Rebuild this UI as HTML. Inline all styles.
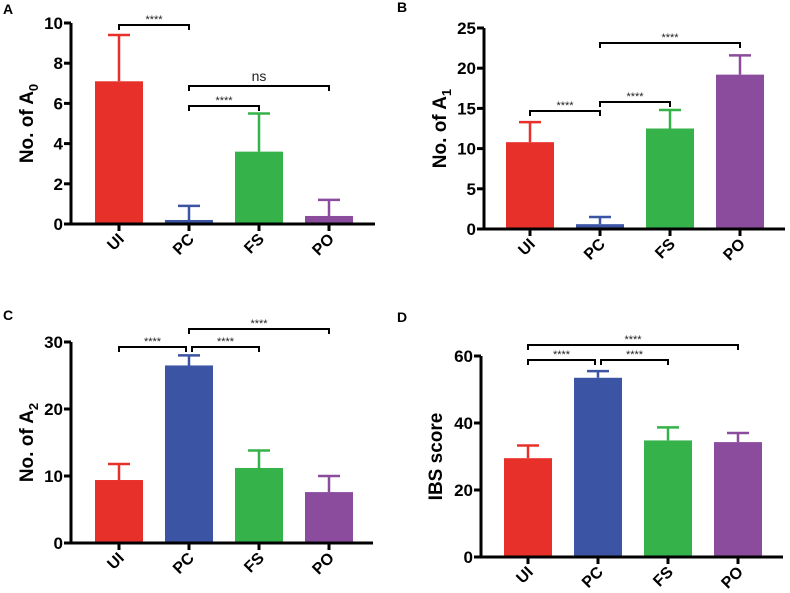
<!DOCTYPE html>
<html><head><meta charset="utf-8"><style>
body{margin:0;background:#fff;}
svg{display:block;font-family:"Liberation Sans",Arial,sans-serif;}
</style></head><body>
<svg id="fig" width="790" height="593" viewBox="0 0 790 593"></svg>
<script>
const categories=["UI","PC","FS","PO"];
const colors=["#e8302a","#3b55a4","#35b24a","#8b4c9e"];
const meansA=[7.1,0.2,3.6,0.4];
const errA=[9.4,0.9,5.5,1.2];
const ticksA=[0,2,4,6,8,10];
const meansB=[10.8,0.6,12.5,19.2];
const errB=[13.3,1.5,14.8,21.6];
const ticksB=[0,5,10,15,20,25];
const meansC=[9.4,26.5,11.2,7.6];
const errC=[11.8,28,13.8,10];
const ticksC=[0,10,20,30];
const meansD=[29.5,53.5,34.8,34.3];
const errD=[33.3,55.5,38.7,37];
const ticksD=[0,20,40,60];
const NS="http://www.w3.org/2000/svg";
const svg=document.getElementById('fig');
function mk(tag,attrs,parent,text){const e=document.createElementNS(NS,tag);for(const k in attrs)e.setAttribute(k,attrs[k]);if(text!==undefined)e.textContent=text;(parent||svg).appendChild(e);return e;}
const panels=[
 {id:'a',letter:'A',lx:3,ly:14,ax:71,top:23,bot:224,end:375,c0:119,means:meansA,errs:errA,ticks:ticksA,lab:'No. of A',sub:'0',ylx:33,brackets:[[0,1,25,'****'],[1,3,86,'ns'],[1,2,106,'****']]},
 {id:'b',letter:'B',lx:397,ly:12,ax:484,top:28,bot:229,end:785,c0:530,means:meansB,errs:errB,ticks:ticksB,lab:'No. of A',sub:'1',ylx:446,brackets:[[0,1,111,'****'],[1,2,102,'****'],[1,3,43,'****']]},
 {id:'c',letter:'C',lx:3,ly:320,ax:71,top:342,bot:543,end:373,c0:119,means:meansC,errs:errC,ticks:ticksC,lab:'No. of A',sub:'2',ylx:33,brackets:[[0,1,347,'****'],[1,2,347,'****'],[1,3,329,'****']]},
 {id:'d',letter:'D',lx:397,ly:322,ax:481,top:356,bot:557,end:783,c0:528,means:meansD,errs:errD,ticks:ticksD,lab:'IBS score',sub:'',ylx:442,brackets:[[0,1,360,'****'],[1,2,360,'****'],[0,3,345,'****']]}
];
panels.forEach(p=>{
 const g=mk('g',{});
 
 
 const max=p.ticks[p.ticks.length-1];
 const y=v=>p.bot-(v/max)*(p.bot-p.top);
 const xc=i=>p.c0+i*70;
 const L=mk('text',{x:p.lx,y:p.ly,'font-size':14,'font-weight':'bold'},g,p.letter);
 
 
 p.means.forEach((m,i)=>{
  const c=colors[i];
  const bar=mk('rect',{x:xc(i)-24,y:y(m),width:48,height:p.bot-y(m),fill:c},g);
  
  
  const e=mk('path',{d:`M${xc(i)} ${y(m)}V${y(p.errs[i])}M${xc(i)-11} ${y(p.errs[i])}H${xc(i)+11}`,stroke:c,'stroke-width':2.5,fill:'none'},g);
  
  
 });
 const ya=mk('path',{d:`M${p.ax} ${p.top}V${p.bot}`,stroke:'#000','stroke-width':3},g);
 
 
 const xa=mk('path',{d:`M${p.ax-1.5} ${p.bot}H${p.end}`,stroke:'#000','stroke-width':3},g);
 
 
 p.ticks.forEach(t=>{
  mk('path',{d:`M${p.ax-7} ${y(t)}H${p.ax}`,stroke:'#000','stroke-width':3},g);
  const tl=mk('text',{x:p.ax-8,y:y(t)+6,'font-size':17,'font-weight':'bold','text-anchor':'end'},g,t);
  
  
 });
 categories.forEach((c,i)=>{
  mk('path',{d:`M${xc(i)} ${p.bot}V${p.bot+7}`,stroke:'#000','stroke-width':3},g);
  const tx=xc(i)+6,ty=p.bot+16;
  const xl=mk('text',{x:tx,y:ty,'font-size':16,'font-weight':'bold','text-anchor':'end',transform:`rotate(-45 ${tx} ${ty})`},g,c);
  
  
 });
 const mid=(p.top+p.bot)/2;
 const yl=mk('text',{x:p.ylx,y:mid,'font-size':19,'font-weight':'bold','text-anchor':'middle',transform:`rotate(-90 ${p.ylx} ${mid})`},g);
 
 
 mk('tspan',{},yl,p.lab);
 if(p.sub) mk('tspan',{dy:5,'font-size':13},yl,p.sub);
 p.brackets.forEach(b=>{
  let x1=xc(b[0]),x2=xc(b[1]);
  const adj=p.brackets.some(o=>o!==b&&o[2]===b[2]);
  if(adj){ if(b[0]===1)x1+=3; if(b[1]===1)x2-=3; }
  const by=b[2];
  const bp=mk('path',{d:`M${x1} ${by+5}V${by}H${x2}V${by+5}`,stroke:'#000','stroke-width':2,fill:'none'},g);
  
  
  const st=mk('text',{x:(x1+x2)/2,y:b[3]==='ns'?by-5:by-2,'font-size':b[3]==='ns'?14:11,'text-anchor':'middle',fill:'#222'},g,b[3]);
  
  
 });
});
</script>
</body></html>
